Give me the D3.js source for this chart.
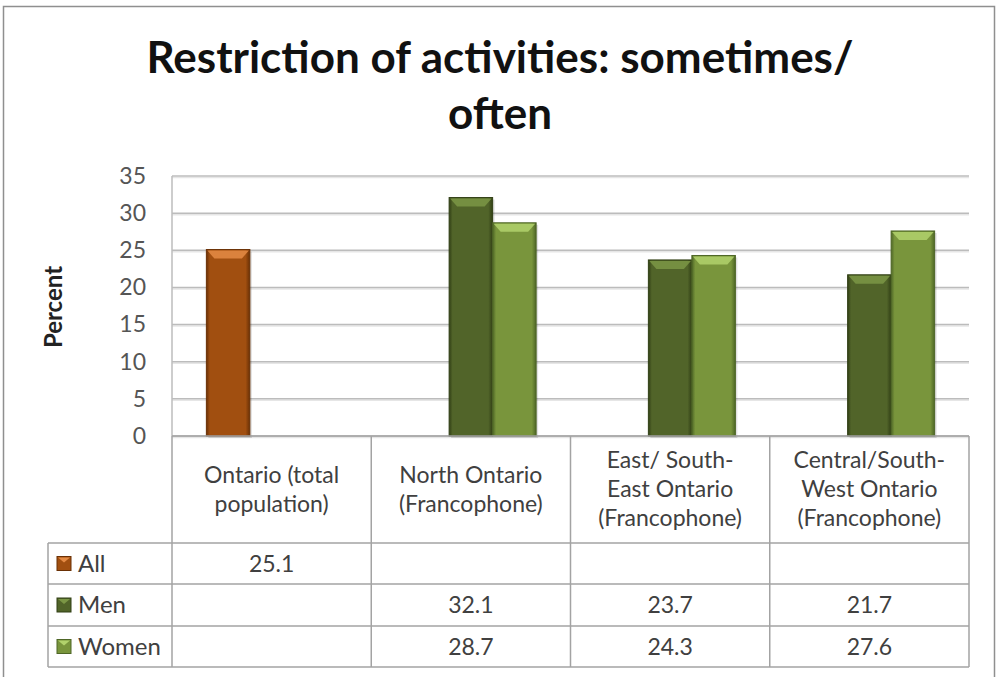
<!DOCTYPE html>
<html lang="en">
<head>
<meta charset="utf-8">
<title>Restriction of activities</title>
<script src="https://d3js.org/d3.v7.min.js"></script>
<style>
  body { margin: 0; background: #fff; }
  text { font-family: Lato, "Open Sans", sans-serif; }
</style>
</head>
<body>
<div id="stage"></div>
<script>
// chart data
var categories = [
  ["Ontario (total", "population)"],
  ["North Ontario", "(Francophone)"],
  ["East/ South-", "East Ontario", "(Francophone)"],
  ["Central/South-", "West Ontario", "(Francophone)"]
];
var series = ["All", "Men", "Women"];
var allValues   = [25.1, null, null, null];
var menValues   = [null, 32.1, 23.7, 21.7];
var womenValues = [null, 28.7, 24.3, 27.6];
var yTicks = [0, 5, 10, 15, 20, 25, 30, 35];

var values = [allValues, menValues, womenValues];
// main, light bevel, dark edge
var colours = {
  All:   ["#a14f10", "#e58b45", "#6a3005"],
  Men:   ["#516429", "#7b9645", "#313f15"],
  Women: ["#79953c", "#b2d26c", "#4e6626"]
};

var W = 997, H = 677;
var svg = d3.select("#stage").append("svg").attr("width", W).attr("height", H);
var defs = svg.append("defs");

// outer frame
svg.append("rect").attr("x", 3.5).attr("y", 6.5).attr("width", 991).attr("height", 720)
  .attr("fill", "none").attr("stroke", "#8f8f8f").attr("stroke-width", 1.5);

// title
var title = svg.append("text").attr("text-anchor", "middle").attr("font-weight", "bold")
  .attr("fill", "#111").attr("font-size", 44);
title.append("tspan").attr("x", 500).attr("y", 73).text("Restriction of activities: sometimes/");
title.append("tspan").attr("x", 500).attr("y", 129).text("often");

var plot = { left: 172, right: 969, top: 176, bottom: 436 };
var rowY = [543, 584, 626, 667];

var x0 = d3.scaleBand().domain(d3.range(categories.length)).range([plot.left, plot.right]);
var x1 = d3.scaleBand().domain(series).range([0, x0.bandwidth()]).paddingOuter(0.79);
var y = d3.scaleLinear().domain([0, 35]).range([plot.bottom, plot.top]);

// gridlines (with soft shadow)
var grid = svg.append("g");
grid.selectAll("line.sh").data(yTicks).join("line")
  .attr("x1", plot.left).attr("x2", plot.right)
  .attr("y1", d => y(d) + 1.5).attr("y2", d => y(d) + 1.5)
  .attr("stroke", "#e6e6e6").attr("stroke-width", 1.5);
grid.selectAll("line.g").data(yTicks).join("line")
  .attr("x1", plot.left).attr("x2", plot.right)
  .attr("y1", d => y(d)).attr("y2", d => y(d))
  .attr("stroke", "#bcbcbc").attr("stroke-width", 1.5);
svg.append("line").attr("x1", plot.left).attr("x2", plot.left)
  .attr("y1", plot.top).attr("y2", plot.bottom).attr("stroke", "#bcbcbc").attr("stroke-width", 1.5);

// y axis
var yAxis = d3.axisLeft(y).tickValues(yTicks).tickSize(0).tickPadding(26);
var ya = svg.append("g").attr("transform", "translate(" + plot.left + ",0)").call(yAxis);
ya.select(".domain").remove();
ya.selectAll("text").attr("font-size", 23).attr("fill", "#555").attr("font-family", "Lato, sans-serif");

svg.append("text").attr("transform", "translate(62,307) rotate(-90)")
  .attr("text-anchor", "middle").attr("font-weight", "bold").attr("font-size", 24)
  .attr("fill", "#222").text("Percent");

// bars with bevel look
series.forEach(function (s, si) {
  var c = colours[s];
  var gid = "grad" + s;
  var g = defs.append("linearGradient").attr("id", gid).attr("x1", 0).attr("x2", 1).attr("y1", 0).attr("y2", 0);
  g.append("stop").attr("offset", "0").attr("stop-color", c[2]);
  g.append("stop").attr("offset", "0.08").attr("stop-color", c[0]);
  g.append("stop").attr("offset", "0.9").attr("stop-color", c[0]);
  g.append("stop").attr("offset", "1").attr("stop-color", c[2]);

  var data = values[si].map((v, i) => ({ i: i, v: v })).filter(d => d.v != null);
  var bw = x1.bandwidth();
  var bars = svg.append("g");
  bars.selectAll("rect.shadow").data(data).join("rect")
    .attr("x", d => x0(d.i) + x1(s) + 2).attr("y", d => y(d.v) + 2)
    .attr("width", bw).attr("height", d => y(0) - y(d.v))
    .attr("fill", "#000").attr("opacity", 0.12);
  bars.selectAll("rect.bar").data(data).join("rect")
    .attr("x", d => x0(d.i) + x1(s)).attr("y", d => y(d.v))
    .attr("width", bw).attr("height", d => y(0) - y(d.v))
    .attr("fill", "url(#" + gid + ")").attr("stroke", c[2]).attr("stroke-width", 1);
  bars.selectAll("path.bevel").data(data).join("path")
    .attr("d", function (d) {
      var xl = x0(d.i) + x1(s), yt = y(d.v);
      return "M" + (xl + 1) + "," + (yt + 1) + "L" + (xl + bw - 1) + "," + (yt + 1) +
        "L" + (xl + bw - 8) + "," + (yt + 9) + "L" + (xl + 8) + "," + (yt + 9) + "Z";
    })
    .attr("fill", c[1]).attr("opacity", 0.85);
});

// data table
var tbl = svg.append("g").attr("stroke", "#a3a3a3").attr("stroke-width", 1.5);
tbl.append("line").attr("x1", plot.left).attr("x2", plot.right).attr("y1", plot.bottom).attr("y2", plot.bottom);
var colX = x0.domain().map(d => x0(d)).concat([plot.right]);
tbl.selectAll("line.v").data(colX).join("line")
  .attr("x1", d => d).attr("x2", d => d).attr("y1", plot.bottom).attr("y2", rowY[3]);
tbl.selectAll("line.h").data(rowY).join("line")
  .attr("x1", 48).attr("x2", plot.right).attr("y1", d => d).attr("y2", d => d);
tbl.append("line").attr("x1", 48).attr("x2", 48).attr("y1", rowY[0]).attr("y2", rowY[3]);

// category labels
categories.forEach(function (lines, i) {
  var cx = x0(i) + x0.bandwidth() / 2;
  var t = svg.append("text").attr("text-anchor", "middle").attr("font-size", 23).attr("fill", "#404040");
  var lh = 29, mid = 489;
  lines.forEach(function (ln, k) {
    t.append("tspan").attr("x", cx)
      .attr("y", mid + (k - (lines.length - 1) / 2) * lh + 8).text(ln);
  });
});

// legend rows + values
series.forEach(function (s, si) {
  var c = colours[s];
  var cy = (rowY[si] + rowY[si + 1]) / 2;
  svg.append("rect").attr("x", 57).attr("y", cy - 7).attr("width", 14).attr("height", 14)
    .attr("fill", c[0]).attr("stroke", c[2]).attr("stroke-width", 1);
  svg.append("path").attr("d", "M58," + (cy - 6) + "L70," + (cy - 6) + "L64," + (cy - 1) + "Z")
    .attr("fill", c[1]);
  svg.append("text").attr("x", 78).attr("y", cy + 8).attr("font-size", 24).attr("fill", "#404040").text(s);
  values[si].forEach(function (v, i) {
    if (v == null) return;
    svg.append("text").attr("x", x0(i) + x0.bandwidth() / 2).attr("y", cy + 8)
      .attr("text-anchor", "middle").attr("font-size", 23).attr("fill", "#404040")
      .text(d3.format(".1f")(v));
  });
});
</script>
</body>
</html>
